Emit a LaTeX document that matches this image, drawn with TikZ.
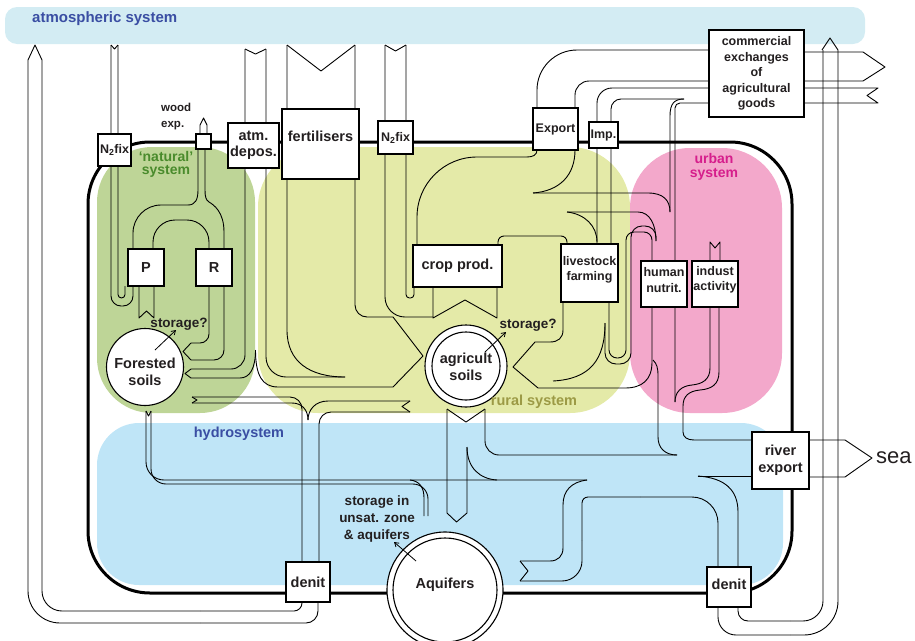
\documentclass[tikz,border=0pt]{standalone}
\usepackage{fontspec}
\setmainfont{Liberation Sans}
\usetikzlibrary{arrows.meta}
\definecolor{atmc}{HTML}{D3ECF3}
\definecolor{hydc}{HTML}{BFE5F7}
\definecolor{natc}{HTML}{BED597}
\definecolor{rurc}{HTML}{E4EAA8}
\definecolor{urbc}{HTML}{F3A8CB}
\definecolor{blu}{HTML}{3A4EA3}
\definecolor{grn}{HTML}{4A8B2C}
\definecolor{oli}{HTML}{9C9A45}
\definecolor{mag}{HTML}{D61E8C}
\definecolor{txt}{HTML}{231F20}
\begin{document}
\begin{tikzpicture}[x=1pt,y=-1pt,
  fl/.style={line width=0.9pt,line join=round},
  bx/.style={draw,fill=white,line width=1.1pt,inner sep=0pt,align=center,text=txt},
  ring/.style={circle,draw,fill=white,line width=1.1pt,inner sep=0pt},
  big/.style={font=\bfseries\fontsize{14.5}{17}\selectfont},
  sml/.style={font=\bfseries\fontsize{12.5}{15.5}\selectfont},
  lbl/.style={inner sep=0pt,align=center,text=txt},
  sysl/.style={inner sep=0pt,align=center,font=\bfseries\fontsize{14}{13.5}\selectfont},
  stor/.style={lbl,font=\bfseries\fontsize{13.5}{17}\selectfont},
  sarr/.style={line width=0.8pt,-{Straight Barb[length=4pt,width=5pt]}}]
\useasboundingbox (0,0) rectangle (915,640);
% ---------- regions ----------
\fill[atmc,rounded corners=12pt] (5,7) rectangle (865,44);
\fill[hydc,rounded corners=42pt] (97,423) rectangle (783,585);
\fill[natc,rounded corners=55pt] (97,147) rectangle (255,413);
\fill[rurc,rounded corners=60pt] (258,147) rectangle (630,413);
\fill[urbc,rounded corners=60pt] (630,148) rectangle (782,413);
% ---------- system outline ----------
\draw[line width=3pt,rounded corners=62pt] (88,142) rectangle (792,593);
% ---------- big left loop: denit -> atmosphere ----------
\draw[fl,rounded corners=12pt] (318,600) -- (318,623) -- (200,623);
\draw[fl,rounded corners=32pt] (200,623) -- (28,623) -- (28,60);
\draw[fl,rounded corners=8pt] (302,600) -- (302,611) -- (200,611);
\draw[fl,rounded corners=20pt] (200,611) -- (42,611) -- (42,60);
\draw[fl] (28,60) -- (35,45) -- (42,60);
% ---------- N2 fixation (natural) ----------
\draw[fl] (111,45) -- (114.5,49) -- (118,45);
\draw[fl,rounded corners=10pt] (111,45) -- (111,306) -- (133,306) -- (133,286);
\draw[fl,rounded corners=3.5pt] (118,45) -- (118,298) -- (125,298) -- (125,286);
% P notch
\draw[fl] (139,286) -- (139,318) -- (146.5,311) -- (154,318) -- (154,286);
% arches P-R
\draw[fl,rounded corners=22pt] (153,249) -- (153,220) -- (209,220) -- (209,249);
\draw[fl,rounded corners=28pt] (133,249) -- (133,205) -- (188,205);
\draw[fl] (188,205) .. controls (195,205) and (198,200) .. (198,190) -- (198,149);
\draw[fl] (224,249) -- (224,232) .. controls (224,212) and (214,205) .. (209,202) .. controls (206,200) and (205,197) .. (205,190) -- (205,149);
% wood export arrow
\draw[fl] (200,134) -- (200,125) -- (203.5,118) -- (207,125) -- (207,134);
% R -> forested soils
\draw[fl,rounded corners=9pt] (209,286) -- (209,343) -- (191,343);
\draw[fl] (191,343) -- (183,351.5) -- (191,360);
\draw[fl,rounded corners=10pt] (191,360) -- (224,360) -- (224,286);
% ---------- atmospheric deposition ----------
\draw[fl] (245,49) -- (255.5,54) -- (266,49);
\draw[fl,rounded corners=14pt] (245,49) -- (245,369) -- (191,369);
\draw[fl] (191,369) -- (185,373.5) -- (191,378);
\draw[fl] (191,378) -- (240,378) .. controls (250,378) and (255.5,368) .. (255.5,350);
\draw[fl] (255.5,350) .. controls (255.5,375) and (262,387) .. (278,387) -- (393,387) -- (423,356);
\draw[fl,rounded corners=20pt] (266,49) -- (266,377) -- (345,377);
% ---------- fertilisers ----------
\draw[fl] (287,45) -- (321,71) -- (355,45);
\draw[fl] (287,45) -- (287,330) .. controls (287,362) and (310,377) .. (345,377);
\draw[fl,rounded corners=12pt] (355,45) -- (355,317) -- (393,317);
\draw[fl] (393,317) -- (423,356);
% ---------- N2 fixation (rural) ----------
\draw[fl] (385,45) -- (395.5,51) -- (406,45);
\draw[fl,rounded corners=20pt] (385,45) -- (385,317) -- (433,317);
\draw[fl,rounded corners=3.5pt] (406,45) -- (406,298) -- (414,298) -- (414,287);
% crop notch
\draw[fl] (433,287) -- (433,318) -- (465,300) -- (497,318) -- (497,287);
% crop -> livestock
\draw[fl,rounded corners=6pt] (498,245) -- (498,236) -- (567,236) -- (567,244);
% crop -> export
\draw[fl] (537,150) .. controls (537,155) and (533,157) .. (527,157);
\draw[fl,rounded corners=60pt] (527,157) -- (417,157) -- (417,245);
\draw[fl] (575,150) .. controls (575,175) and (560,191) .. (533,193);
\draw[fl] (533,193) -- (648,193) .. controls (663,193) and (670,200) .. (670,212);
\draw[fl] (567,212) -- (638,212) .. controls (650,212) and (656,225) .. (656,241);
\draw[fl] (567,212) .. controls (585,214) and (597,226) .. (597,242);
% ---------- commercial exchanges ----------
\draw[fl,rounded corners=40pt] (709,50) -- (537,50) -- (537,108);
\draw[fl,rounded corners=14pt] (709,81) -- (575,81) -- (575,108);
\draw[fl,rounded corners=15pt] (709,88) -- (597,88) -- (597,244);
\draw[fl,rounded corners=10pt] (684,99) -- (611,99) -- (611,244);
\draw[fl] (684,99) .. controls (674,99) and (670,104) .. (670,116) -- (670,212);
\draw[fl,rounded corners=5pt] (709,103) -- (675,103) -- (675,402);
\draw[fl] (804,52) -- (863,52) -- (885,67) -- (863,81) -- (804,81);
\draw[fl] (804,88) -- (878,88) -- (867,95.5) -- (878,103) -- (804,103);
% ---------- livestock / human nutrition ----------
\draw[fl] (563,302) -- (563,330) .. controls (563,338) and (558,342) .. (550,342) -- (535,342) -- (513,367) -- (538,388) -- (625,388) .. controls (642,388) and (652,380) .. (652,362) -- (652,307);
\draw[fl] (605,323) .. controls (605,360) and (590,379) .. (553,381);
\draw[fl,rounded corners=8pt] (609,302) -- (609,358) -- (626,358) -- (626,232) -- (652,232) -- (652,261);
\draw[fl,rounded corners=11pt] (605,323) -- (605,364) -- (631,364) -- (631,226) -- (656,226) -- (656,241);
\draw[fl] (653,360) .. controls (657,364) and (658,368) .. (658,376) -- (658,437) .. controls (658,448) and (665,455) .. (677,455);
% ---------- industrial activity ----------
\draw[fl] (710,261) -- (710,242) -- (715,248) -- (720,242) -- (720,261);
\draw[fl] (710,307) -- (710,368) .. controls (710,380) and (702,384) .. (692,385) .. controls (681,386) and (675,392) .. (675,402);
\draw[fl] (719,307) -- (719,372) .. controls (719,385) and (711,389) .. (700,390) .. controls (689,391) and (683,396) .. (683,406) -- (683,432) .. controls (683,437) and (687,440) .. (694,440) -- (752,440);
% ---------- hydrosystem ----------
\draw[fl] (146,411) -- (148.5,416) -- (151,411);
\draw[fl,rounded corners=18pt] (146,411) -- (146,480) -- (587,480);
\draw[fl] (587,480) .. controls (571,482) and (563,491) .. (563,505) -- (563,548) .. controls (563,556) and (558,561) .. (550,561) -- (520,561);
\draw[fl] (520,561) -- (528,571) -- (520,581);
\draw[fl,rounded corners=20pt] (520,581) -- (582,581) -- (582,540);
\draw[fl,rounded corners=6pt] (582,540) -- (582,497) -- (640,497);
\draw[fl,rounded corners=26pt] (640,497) -- (718,497) -- (718,567);
\draw[fl,rounded corners=15pt] (151,411) -- (151,484) -- (428,484) -- (428,516);
\draw[fl] (410,480) .. controls (420,481) and (424,488) .. (424,498) -- (424,516);
% agricultural soils -> hydrosystem
\draw[fl] (447,409) -- (466,422) -- (485,409);
\draw[fl] (447,409) -- (447,513) -- (456.5,522) -- (467,513) -- (467,447);
\draw[fl] (467,447) .. controls (467,468) and (480,479) .. (497,480);
\draw[fl,rounded corners=14pt] (485,409) -- (485,455) -- (677,455);
% river export
\draw[fl] (698,476) -- (752,476);
\draw[fl] (698,476) .. controls (725,478) and (738,490) .. (738,512) -- (738,567);
\draw[fl] (809,440) -- (845,440) -- (872,458) -- (845,477) -- (809,477);
% leaching to denit (left)
\draw[fl] (192,397) -- (197,400) -- (192,403);
\draw[fl,rounded corners=12pt] (192,397) -- (302,397) -- (302,562);
\draw[fl] (192,403) -- (292,403) .. controls (302,403) and (308,410) .. (308,420);
\draw[fl] (410,401) -- (402,406.5) -- (410,412);
\draw[fl] (410,401) -- (328,401) .. controls (315,401) and (308,410) .. (308,420);
\draw[fl,rounded corners=12pt] (410,412) -- (319,412) -- (319,562);
% denit (right) -> atmosphere
\draw[fl,rounded corners=10pt] (738,607) -- (738,621) -- (790,621);
\draw[fl,rounded corners=20pt] (790,621) -- (823,621) -- (823,50);
\draw[fl,rounded corners=18pt] (718,607) -- (718,635) -- (790,635);
\draw[fl,rounded corners=34pt] (790,635) -- (838,635) -- (838,50);
\draw[fl] (822,50) -- (830,38) -- (838,50);
% ---------- boxes ----------
\node[bx,sml,minimum width=33pt,minimum height=32pt] (n2l) at (114.5,150) {N\textsubscript{2}fix};
\node[bx,minimum width=15pt,minimum height=15pt] (wood) at (203.5,141.5) {};
\node[bx,big,minimum width=51pt,minimum height=45pt,font=\bfseries\fontsize{14.5}{16}\selectfont] (atm) at (253.5,145.5) {atm.\\depos.};
\node[bx,minimum width=77pt,minimum height=70pt] (fert) at (320.5,144) {};
\node[lbl,big] (fertl) at (320.5,136) {fertilisers};
\node[bx,sml,minimum width=35pt,minimum height=33pt] (n2r) at (395.5,137.5) {N\textsubscript{2}fix};
\node[bx,sml,minimum width=45pt,minimum height=42pt] (exp) at (555.5,129) {Export};
\node[bx,sml,minimum width=29pt,minimum height=26pt] (imp) at (603.5,135) {Imp.};
\node[bx,sml,minimum width=95pt,minimum height=87pt] (comm) at (756.5,73.5) {commercial\\exchanges\\of\\agricultural\\goods};
\node[bx,big,minimum width=36pt,minimum height=37pt] (P) at (146,267.5) {P};
\node[bx,big,minimum width=36pt,minimum height=37pt] (R) at (214,267.5) {R};
\node[ring,minimum size=77pt] (fs) at (145,367) {};
\node[lbl,big] (fsl) at (145,372) {Forested\\soils};
\node[bx,big,minimum width=89pt,minimum height=42pt] (crop) at (457.5,266) {crop prod.};
\node[ring,minimum size=82pt] (as) at (466,366) {};
\node[ring,minimum size=68pt] (asi) at (466,366) {};
\node[lbl,big] (asl) at (466,367) {agricult\\soils};
\node[bx,minimum width=57pt,minimum height=58pt] (live) at (589.5,273) {};
\node[lbl,sml] (livel) at (589.5,270) {livestock\\farming};
\node[bx,minimum width=46pt,minimum height=46pt] (hum) at (664,284) {};
\node[lbl,sml] (huml) at (664,280) {human\\nutrit.};
\node[bx,minimum width=46pt,minimum height=46pt] (ind) at (715,284) {};
\node[lbl,sml] (indl) at (715,280) {indust\\activity};
\node[bx,big,minimum width=57pt,minimum height=57pt] (riv) at (780.5,460.5) {river\\export};
\node[bx,big,minimum width=44pt,minimum height=40pt] (dl) at (308,582) {denit};
\node[bx,minimum width=44pt,minimum height=40pt] (dr) at (729,587) {};
\node[lbl,big] (drl) at (729,584) {denit};
\node[ring,minimum size=116pt] (aq) at (445,590) {};
\node[ring,minimum size=104pt] (aqi) at (445,590) {};
\node[lbl,big] (aql) at (445,585) {Aquifers};
% ---------- labels ----------
\node[sysl,anchor=west,text=blu,font=\bfseries\fontsize{15}{15}\selectfont] (atml) at (32,19) {atmospheric system};
\node[sysl,text=grn] (natl) at (166,164.5) {‘natural’\\system};
\node[sysl,text=mag] (urbl) at (714,167) {urban\\system};
\node[sysl,text=oli,font=\bfseries\fontsize{14.5}{14.5}\selectfont] (rurl) at (534,402) {rural system};
\node[sysl,text=blu,font=\bfseries\fontsize{14.5}{14.5}\selectfont] (hydl) at (239,434) {hydrosystem};
\node[lbl,anchor=west,align=left,font=\bfseries\fontsize{11.5}{16}\selectfont] (woodl) at (161,117) {wood\\exp.};
\node[stor] (st1) at (179,324) {storage?};
\coordinate (s1a) at (155,350);
\coordinate (s1b) at (176,330);
\draw[sarr] (s1a) -- (s1b);
\node[stor] (st2) at (528,325) {storage?};
\coordinate (s2a) at (485,352);
\coordinate (s2b) at (506,332);
\draw[sarr] (s2a) -- (s2b);
\node[stor] (st3) at (377,519) {storage in\\unsat. zone\\\& aquifers};
\coordinate (s3a) at (416,561);
\coordinate (s3b) at (394,542);
\draw[sarr] (s3a) -- (s3b);
\node[lbl,anchor=west,font=\fontsize{22}{22}\selectfont] (seal) at (876,458) {sea};
\end{tikzpicture}
\end{document}
